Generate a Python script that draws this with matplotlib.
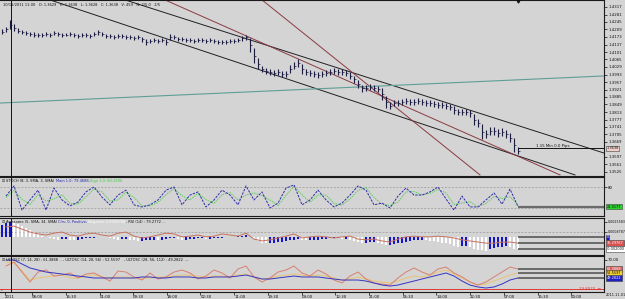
import matplotlib
matplotlib.use('Agg')
import matplotlib.pyplot as plt
import numpy as np

W, H = 625, 299
BG = '#d4d4d4'
plt.rcParams['font.family'] = ['DejaVu Sans']

# ---------------- data ----------------
bar_high = [1.4211, 1.4221, 1.4255, 1.4235, 1.4216, 1.4207, 1.4202, 1.4197, 1.4197, 1.4192,
            1.4192, 1.4197, 1.4192, 1.4202, 1.4197, 1.4192, 1.4192, 1.4197, 1.4192, 1.4187,
            1.4192, 1.4192, 1.4187, 1.4197, 1.4207, 1.4197, 1.4187, 1.4187, 1.4183, 1.4187,
            1.4187, 1.4183, 1.4183, 1.4178, 1.4183, 1.4173, 1.4163, 1.4163, 1.4168, 1.4163,
            1.4168, 1.4163, 1.4187, 1.4183, 1.4173, 1.4173, 1.4168, 1.4168, 1.4163, 1.4168,
            1.4168, 1.4163, 1.4168, 1.4163, 1.4159, 1.4159, 1.4159, 1.4163, 1.4163, 1.4168,
            1.4178, 1.4183, 1.4168, 1.4120, 1.4072, 1.4034, 1.4024, 1.4019, 1.4015, 1.4019,
            1.4010, 1.4010, 1.4039, 1.4053, 1.4067, 1.4043, 1.4019, 1.4015, 1.4010, 1.4005,
            1.4010, 1.4015, 1.4019, 1.4024, 1.4019, 1.4019, 1.4015, 1.4005, 1.3986, 1.3967,
            1.3943, 1.3943, 1.3947, 1.3943, 1.3938, 1.3928, 1.3890, 1.3861, 1.3871, 1.3871,
            1.3875, 1.3880, 1.3875, 1.3875, 1.3880, 1.3875, 1.3871, 1.3871, 1.3866, 1.3861,
            1.3861, 1.3856, 1.3851, 1.3842, 1.3827, 1.3827, 1.3827, 1.3823, 1.3803, 1.3779,
            1.3755, 1.3727, 1.3741, 1.3741, 1.3731, 1.3736, 1.3727, 1.3712, 1.3688, 1.3645]
bar_low = [1.4187, 1.4197, 1.4211, 1.4202, 1.4192, 1.4187, 1.4183, 1.4178, 1.4173, 1.4173,
           1.4173, 1.4178, 1.4173, 1.4183, 1.4178, 1.4173, 1.4178, 1.4178, 1.4173, 1.4168,
           1.4173, 1.4173, 1.4168, 1.4178, 1.4183, 1.4178, 1.4168, 1.4168, 1.4163, 1.4168,
           1.4168, 1.4163, 1.4163, 1.4159, 1.4163, 1.4149, 1.4135, 1.4144, 1.4149, 1.4144,
           1.4149, 1.4135, 1.4159, 1.4163, 1.4154, 1.4154, 1.4149, 1.4149, 1.4144, 1.4149,
           1.4149, 1.4144, 1.4149, 1.4144, 1.4139, 1.4139, 1.4139, 1.4144, 1.4144, 1.4149,
           1.4154, 1.4159, 1.4101, 1.4048, 1.4019, 1.4005, 1.3995, 1.3991, 1.3986, 1.3991,
           1.3981, 1.3981, 1.4000, 1.4019, 1.4029, 1.3995, 1.3991, 1.3986, 1.3981, 1.3976,
           1.3981, 1.3986, 1.3991, 1.3995, 1.3991, 1.3991, 1.3986, 1.3971, 1.3952, 1.3928,
           1.3909, 1.3914, 1.3919, 1.3914, 1.3909, 1.3871, 1.3832, 1.3827, 1.3842, 1.3842,
           1.3847, 1.3851, 1.3847, 1.3847, 1.3851, 1.3847, 1.3842, 1.3842, 1.3837, 1.3832,
           1.3832, 1.3827, 1.3823, 1.3803, 1.3799, 1.3799, 1.3799, 1.3789, 1.3751, 1.3741,
           1.3683, 1.3688, 1.3703, 1.3703, 1.3693, 1.3698, 1.3688, 1.3669, 1.3621, 1.3611]
last_price = 1.3638
price_ticks = [1.4317, 1.4281, 1.4245, 1.4209, 1.4173, 1.4137, 1.4101, 1.4065, 1.4029,
               1.3993, 1.3957, 1.3921, 1.3885, 1.3849, 1.3813, 1.3777, 1.3741, 1.3705,
               1.3669, 1.3597, 1.3561, 1.3525]

# trend lines: (bar0, price0, bar1, price1)
black_lines = [(12.0, 1.4351, 143.25, 1.3511), (30.75, 1.4351, 150.5, 1.3616)]
maroon_lines = [(40.75, 1.4351, 139.5, 1.3511), (65.0, 1.4351, 119.5, 1.3511)]
teal_line = (-0.5, 1.3856, 150.5, 1.3986)

# stochastic (every 2nd bar)
sto_main = [54, 83, 14, 43, 71, 14, 77, 43, 26, 37, 66, 80, 51, 29, 57, 71, 29, 23, 29, 43,
            71, 80, 29, 57, 66, 23, 43, 71, 57, 29, 83, 43, 66, 20, 34, 77, 86, 29, 43, 71,
            43, 23, 34, 57, 83, 71, 29, 34, 20, 54, 77, 57, 57, 66, 80, 46, 14, 54, 23, 23,
            43, 63, 31, 74, 24]
sto_signal = [50, 70, 45, 30, 58, 40, 46, 58, 33, 31, 52, 74, 66, 40, 43, 65, 50, 26, 26, 36,
              58, 76, 55, 43, 62, 44, 33, 58, 64, 43, 57, 63, 55, 43, 27, 56, 82, 58, 36, 57,
              57, 33, 28, 46, 70, 78, 50, 31, 27, 37, 66, 67, 57, 62, 73, 63, 30, 34, 38, 23,
              33, 53, 47, 52, 30]

# awesome oscillator (per bar)
ao = [0.0021, 0.0024, 0.0026, 0.0024, 0.0022, 0.0019, 0.0016, 0.0012, 0.0008, 0.0005,
      0.0002, 0.0000, -0.0002, -0.0003, -0.0004, -0.0003, -0.0003, -0.0004, -0.0005, -0.0004,
      -0.0003, -0.0002, -0.0002, -0.0001, 0.0001, 0.0001, 0.0000, -0.0002, -0.0003, -0.0004,
      -0.0003, -0.0003, -0.0004, -0.0005, -0.0006, -0.0006, -0.0005, -0.0004, -0.0004, -0.0005,
      -0.0004, -0.0003, -0.0002, -0.0002, -0.0003, -0.0004, -0.0004, -0.0003, -0.0003, -0.0002,
      -0.0002, -0.0003, -0.0003, -0.0002, -0.0002, -0.0001, 0.0000, 0.0001, 0.0001, 0.0002,
      0.0002, 0.0003, 0.0001, -0.0003, -0.0007, -0.0009, -0.0010, -0.0010, -0.0009, -0.0008,
      -0.0008, -0.0007, -0.0005, -0.0004, -0.0003, -0.0004, -0.0005, -0.0005, -0.0004, -0.0004,
      -0.0003, -0.0003, -0.0002, -0.0002, -0.0002, -0.0003, -0.0003, -0.0004, -0.0006, -0.0008,
      -0.0009, -0.0009, -0.0008, -0.0008, -0.0009, -0.0011, -0.0013, -0.0013, -0.0012, -0.0010,
      -0.0009, -0.0008, -0.0006, -0.0005, -0.0004, -0.0004, -0.0005, -0.0006, -0.0007, -0.0008,
      -0.0009, -0.0010, -0.0012, -0.0014, -0.0016, -0.0015, -0.0014, -0.0017, -0.0019, -0.0021,
      -0.0022, -0.0023, -0.0020, -0.0018, -0.0017, -0.0016, -0.0015, -0.0016, -0.0019, -0.0020]
ao_ticks = [0.0025583, 0.0008787]
rsi = [76, 78, 70, 62, 57, 54, 59, 62, 54, 51, 57, 59, 54, 51, 59, 62, 51, 46, 49, 54,
       59, 57, 49, 51, 54, 49, 51, 57, 54, 51, 59, 43, 38, 41, 46, 51, 57, 46, 49, 51,
       49, 46, 49, 51, 43, 41, 43, 38, 35, 43, 49, 51, 49, 49, 51, 49, 46, 41, 38, 35,
       32, 32, 35, 35, 32]

# ultimate oscillators (every 2nd bar)
ult_fast = [61.7, 67.2, 53.4, 39.7, 53.4, 56.2, 47.9, 49.3, 52.1, 45.2,
            50.7, 52.1, 46.6, 41.0, 54.8, 53.4, 46.6, 42.4, 52.1, 43.8,
            46.6, 53.4, 56.2, 52.1, 43.8, 47.9, 56.2, 52.1, 45.2, 57.6,
            61.7, 46.6, 39.7, 45.2, 53.4, 56.2, 61.7, 52.1, 47.9, 56.2,
            50.7, 42.4, 38.3, 47.9, 53.4, 43.8, 38.3, 36.9, 35.5, 45.2,
            53.4, 59.0, 53.4, 49.3, 57.6, 60.3, 52.1, 46.6, 39.7, 35.5,
            39.7, 46.6, 53.4, 60.3, 57.6]
ult_mid = [67.2, 65.9, 54.8, 42.4, 45.2, 46.6, 47.9, 49.3, 45.2, 45.2,
           47.9, 49.3, 46.6, 45.2, 46.6, 46.6, 45.2, 45.2, 45.2, 46.6,
           46.6, 47.9, 49.3, 49.3, 47.9, 46.6, 47.9, 47.9, 46.6, 49.3,
           50.7, 46.6, 43.8, 45.2, 47.9, 49.3, 50.7, 49.3, 47.9, 49.3,
           47.9, 45.2, 42.4, 43.8, 46.6, 43.8, 41.0, 39.7, 38.3, 41.0,
           45.2, 47.9, 46.6, 49.3, 53.4, 56.2, 50.7, 45.2, 39.7, 35.5,
           36.9, 41.0, 45.2, 49.3, 52.1]
ult_slow = [70.0, 70.0, 64.5, 59.0, 56.2, 53.4, 52.1, 50.7, 49.3, 47.9,
            46.6, 45.2, 45.2, 45.2, 45.2, 45.2, 45.2, 46.6, 46.6, 45.2,
            45.2, 46.6, 46.6, 46.6, 45.2, 45.2, 46.6, 46.6, 46.6, 47.9,
            49.3, 46.6, 43.8, 43.8, 45.2, 46.6, 47.9, 46.6, 46.6, 46.6,
            45.2, 43.8, 42.4, 42.4, 42.4, 41.0, 38.3, 35.5, 34.1, 35.5,
            38.3, 41.0, 43.8, 46.6, 49.3, 52.1, 47.9, 41.0, 35.5, 32.8,
            31.4, 32.8, 36.9, 42.4, 45.2]
ult_level = 29.8970

time_pos = [0.75, 7.5, 15.9, 24.4, 32.8, 41.2, 49.6, 58.1, 66.5, 74.9, 83.3, 91.8,
            100.2, 108.6, 117.0, 125.5, 133.9, 142.3]
time_labels = ['2011', '08:00', '16:30', '01:00', '09:30', '18:00', '02:30', '11:00',
               '19:30', '04:00', '12:30', '21:00', '05:30', '14:00', '22:30', '07:00',
               '15:30', '00:00']
cursor_bar = 2.25

# ---------------- figure ----------------
fig = plt.figure(figsize=(W / 100, H / 100), dpi=100, facecolor=BG)
R = 604 / W


def rect(top_px, bot_px):
    return [0.0, (H - bot_px) / H, R, (bot_px - top_px) / H]


ax_m = fig.add_axes(rect(0.5, 176))
ax_s = fig.add_axes(rect(177, 216), sharex=ax_m)
ax_a = fig.add_axes(rect(218, 255), sharex=ax_m)
ax_u = fig.add_axes(rect(256, 292), sharex=ax_m)

FS = 2.8
BFS = 2.5


def style(ax, fs=FS):
    ax.set_facecolor(BG)
    for s in ('top', 'right', 'bottom'):
        ax.spines[s].set_color('#1a1a1a')
        ax.spines[s].set_linewidth(0.8)
    ax.spines['left'].set_visible(False)
    ax.yaxis.tick_right()
    ax.tick_params(axis='y', labelsize=fs, length=2, width=0.5, pad=1, colors='#101010')
    ax.tick_params(axis='x', labelbottom=False, length=0)


for ax in (ax_m, ax_s, ax_a, ax_u):
    style(ax)
    ax.axvline(cursor_bar, color='#111111', lw=0.7, zorder=5)

ax_m.set_xlim(-0.5, 150.5)
bx = np.arange(len(bar_high))
bh = np.array(bar_high)
bl = np.array(bar_low)


def box(ax, y, text, fc, tc='#111111'):
    ax.text(1.004, y, text, transform=ax.get_yaxis_transform(), fontsize=BFS, color=tc,
            va='center', ha='left', clip_on=False, zorder=10,
            bbox=dict(boxstyle='square,pad=0.18', fc=fc, ec='#404040', lw=0.4))


# ---- main price panel ----
ax_m.set_ylim(1.35058, 1.43482)
ax_m.set_yticks(price_ticks)
ax_m.set_yticklabels(['%.4f' % p for p in price_ticks])
for (x0, p0, x1, p1) in black_lines:
    ax_m.plot([x0, x1], [p0, p1], color='#202020', lw=0.7, zorder=2)
for (x0, p0, x1, p1) in maroon_lines:
    ax_m.plot([x0, x1], [p0, p1], color='#8a3a42', lw=0.7, zorder=2)
ax_m.plot([teal_line[0], teal_line[2]], [teal_line[1], teal_line[3]], color='#5f9e96', lw=0.8, zorder=2)
ax_m.vlines(bx, bl, bh, color='#1c1c40', lw=0.8, zorder=3)
ax_m.plot(bx + 0.35, (bh + bl) / 2, ls='none', marker='_', ms=1.3, mew=0.5, color='#1c1c40', zorder=3)
ax_m.hlines(last_price, len(bar_high) - 1, 150.5, color='#111111', lw=0.7, zorder=4)
ax_m.text(133.5, last_price + 0.0003, '1.15 Min 0.0 Pips', fontsize=2.8, color='#111111',
          va='bottom', ha='left')
ax_m.plot([len(bar_high) - 1], [1.4346], marker='v', ms=2.2, color='#111111', clip_on=False, zorder=6)
box(ax_m, last_price, '%.4f' % last_price, '#f2cfc8')

# ---- stochastic ----
ix = np.arange(1, 2 * len(sto_main), 2)
ax_s.set_ylim(-2.9, 108.6)
ax_s.set_yticks([80])
ax_s.set_yticklabels(['80'])
for lv in (80, 20):
    ax_s.axhline(lv, color='#9a9a9a', lw=0.5, ls=(0, (3, 2)))
ax_s.plot(ix, sto_signal, color='#5ccc5c', lw=0.7, ls=(0, (1.5, 1)))
ax_s.plot(ix, sto_main, color='#2e2ea8', lw=0.7, ls=(0, (2.5, 1.2)))
ax_s.hlines(sto_main[-1], ix[-1], 150.5, color='#6a6a6a', lw=1.6)
box(ax_s, sto_main[-1], '21.0177', '#2ad12a')

# ---- awesome oscillator + rsi ----
ax_r = ax_a.twinx()
ax_r.set_ylim(0, 100)
ax_r.axis('off')
style(ax_a, fs=2.3)
ax_a.tick_params(axis='y', pad=0.6)
ax_a.set_ylim(-0.00299, 0.003226)
ax_a.set_yticks(ao_ticks)
ax_a.set_yticklabels(['%.7f' % v for v in ao_ticks])
ax_a.axhline(ao_ticks[1], color='#9a9a9a', lw=0.5, ls=(0, (3, 2)))
ao_arr = np.array(ao)
cols = ['#1414c8'] + ['#1414c8' if ao_arr[i] >= ao_arr[i - 1] else '#ffffff' for i in range(1, len(ao))]
ax_a.bar(bx, ao_arr, width=0.65, color=cols, lw=0, zorder=2)
ax_a.hlines([0.0, ao[-1]], len(ao) - 1, 150.5, color='#6a6a6a', lw=1.4)
ax_r.plot(ix, rsi, color='#c8705e', lw=0.7)
ax_r.hlines(rsi[-1], ix[-1], 150.5, color='#6a6a6a', lw=1.4)
box(ax_a, 0.0, '0', '#1414c8', '#ffffff')
box(ax_a, -0.00097, '35.29767', '#d85050', '#ffffff')
box(ax_a, ao[-1], '%.6f' % ao[-1], '#ffffff')

# ---- ultimate oscillators ----
ax_u.set_ylim(25.9, 75.5)
ax_u.set_yticks([70])
ax_u.set_yticklabels(['70.00'])
ax_u.axhline(ult_level, color='#e03a3a', lw=0.7)
ax_u.plot(ix, ult_mid, color='#e8c472', lw=0.7)
ax_u.plot(ix, ult_fast, color='#d9806e', lw=0.7)
ax_u.plot(ix, ult_slow, color='#3434c4', lw=0.7)
for v in (ult_fast[-1], ult_mid[-1], ult_slow[-1]):
    ax_u.hlines(v, ix[-1], 150.5, color='#6a6a6a', lw=1.4)
box(ax_u, ult_fast[-1], '61.3888', '#d86060', '#ffffff')
box(ax_u, ult_mid[-1], '52.5597', '#f0d030')
box(ax_u, ult_slow[-1], '49.2822', '#2020c8', '#ffffff')
ax_u.text(149.8, ult_level, '%.4f  \u2190' % ult_level, fontsize=FS, color='#e03a3a',
          va='center', ha='right', zorder=6)
ax_u.text(-0.3, ult_level, '\u25b8', fontsize=3, color='#e03a3a', va='center', ha='left')

ax_u.set_xticks(time_pos)
ax_u.set_xticklabels(time_labels)
ax_u.tick_params(axis='x', labelbottom=True, labelsize=FS, length=2, width=0.5, pad=0.5,
                 direction='out', colors='#101010')
for lab in ax_u.get_xticklabels():
    lab.set_ha('left')
fig.text(606 / W, 2 / H, '2011.11.01', fontsize=BFS, color='#101010', va='bottom', ha='left')

# ---- panel titles ----
renderer = fig.canvas.get_renderer()


def seq_text(x_px, y_px, parts, fs=2.6):
    x = x_px
    for s, c in parts:
        t = fig.text(x / W, 1 - y_px / H, s, color=c, fontsize=fs, va='center', ha='left', zorder=20)
        x += t.get_window_extent(renderer).width


seq_text(3, 5, [('10/11/2011 11:00   O: 1.3629   H: 1.3638   L: 1.3628   C: 1.3638   V: 459   N: 2/5.0   2/5', '#111111')])
seq_text(2, 181, [('\u229f ', '#333333'), ('STOCH (8, 3, SMA, 3, SMA) ', '#111111'),
                  ('Main 1.0: 79.4688, ', '#2424b0'), ('Sign 1.0: 80.2990', '#3cc83c')])
seq_text(2, 222, [('\u229f ', '#333333'), ('Awesome (5, SMA, 34, SMA) ', '#111111'),
                  ('Clrs: 0, Positive, ', '#2424b0'), ('Negative 0.0008788', '#ffffff'),
                  (', RSI (14) : 79.2772 ', '#111111'), ('\u2014', '#c8705e')])
seq_text(2, 260, [('\u229f ', '#333333'), ('ULTOSC (7, 14, 28) : 61.3888 ', '#111111'),
                  ('\u2014', '#d9806e'), (', ULTOSC (14, 28, 56) : 52.5597 ', '#111111'),
                  ('\u2014', '#e8c472'), (', ULTOSC (28, 56, 112) : 49.2822 ', '#111111'),
                  ('\u2014', '#3434c4')])

fig.savefig('out.png', dpi=100, facecolor=BG)
